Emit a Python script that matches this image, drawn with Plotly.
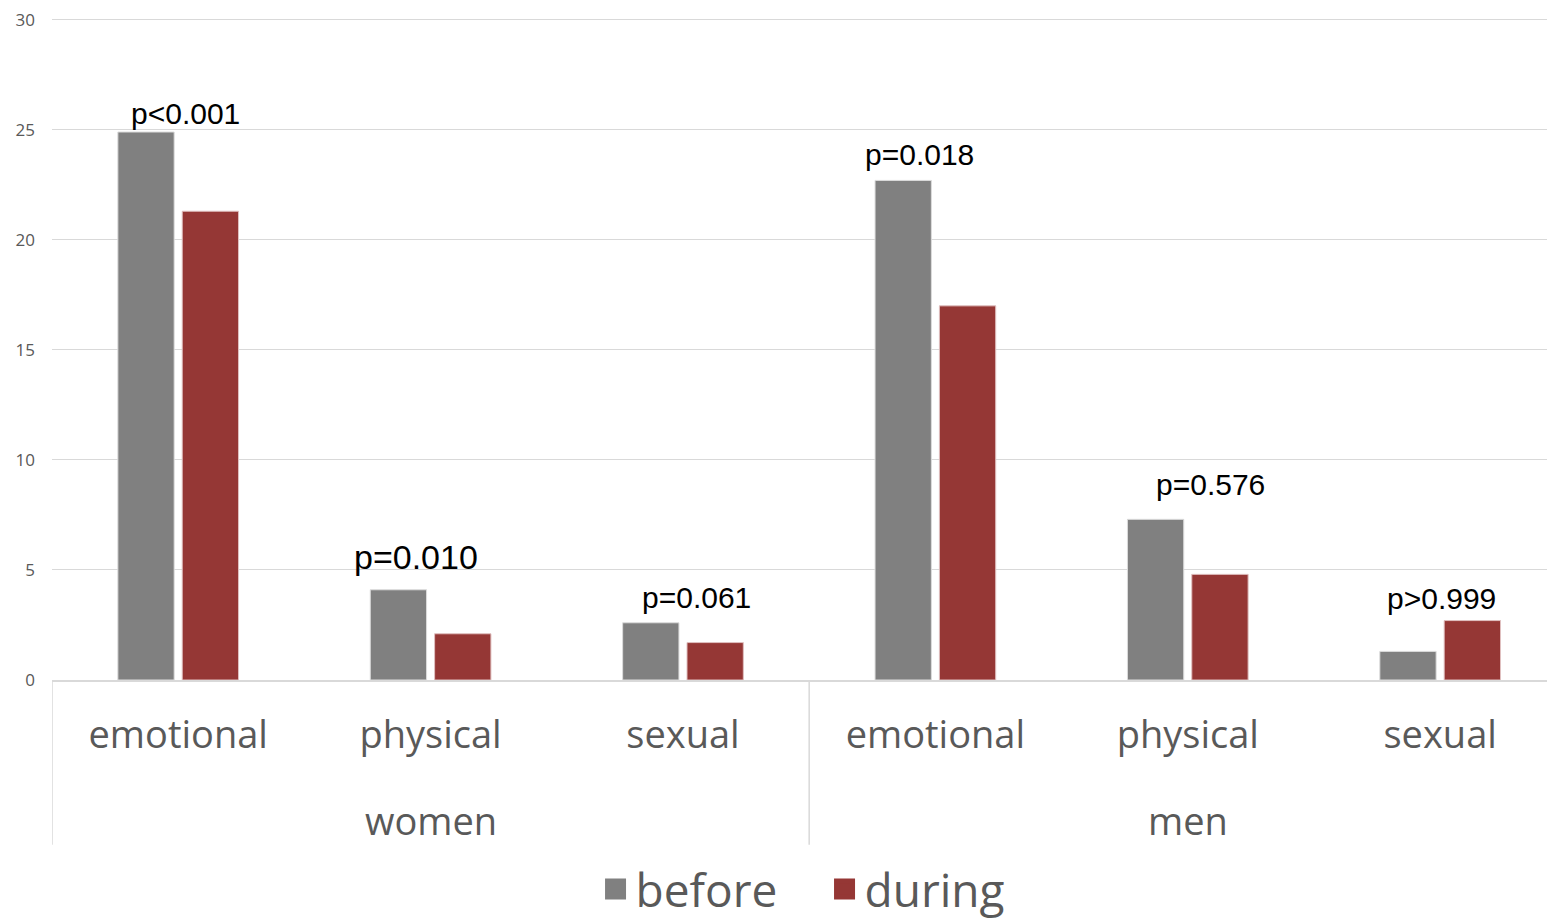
import plotly.graph_objects as go

categories = ["emotional", "physical", "sexual", "emotional", "physical", "sexual"]
groups = ["women", "men"]
group_members = [[0, 1, 2], [3, 4, 5]]
before = [24.9, 4.1, 2.6, 22.7, 7.3, 1.3]
during = [21.3, 2.1, 1.7, 17.0, 4.8, 2.7]
p_labels = ["p<0.001", "p=0.010", "p=0.061", "p=0.018", "p=0.576", "p>0.999"]
y_ticks = [0, 5, 10, 15, 20, 25, 30]

# styling / placement
p_dx = [7, -15, 14, -16, 23, 1]
p_dy = [0, 12, 7, 7, 16, 4]
p_size = [30, 34, 30, 30, 30, 30]
GRAY = "#808080"
RED = "#953735"
TXT = "#595959"
FONT = "Open Sans"

xs = list(range(len(categories)))

fig = go.Figure()
fig.add_trace(go.Bar(x=xs, y=before, name="before", marker=dict(color=GRAY, line=dict(color="#dcdcdc", width=1)), showlegend=False))
fig.add_trace(go.Bar(x=xs, y=during, name="during", marker=dict(color=RED, line=dict(color="#e0c0c0", width=1)), showlegend=False))
# legend entries
for nm, col in [("before", GRAY), ("during", RED)]:
    fig.add_trace(go.Scatter(x=[None], y=[None], mode="markers", name=nm,
                             marker=dict(symbol="square", size=16, color=col, line=dict(color=col, width=5))))

for i, lab in enumerate(p_labels):
    fig.add_annotation(x=xs[i], y=max(before[i], during[i]), text=lab, showarrow=False,
                       xanchor="center", yanchor="bottom", xshift=p_dx[i], yshift=p_dy[i],
                       font=dict(family="Liberation Sans, Arial", size=p_size[i], color="#000000"))

for g, mem in zip(groups, group_members):
    fig.add_annotation(x=sum(mem) / len(mem), y=-0.211, yref="paper", text=g, showarrow=False,
                       xanchor="center", yanchor="middle", font=dict(family=FONT, size=38, color=TXT))
    fig.add_shape(type="line", xref="x", yref="paper", x0=mem[0] - 0.5, x1=mem[0] - 0.5, y0=0, y1=-0.249,
                  line=dict(color="#d9d9d9", width=1.5))

# page body has an 8px margin, so the figure is sized/offset to compensate
fig.update_layout(
    width=1547, height=912,
    margin=dict(l=44, r=0, t=10, b=240, autoexpand=False),
    plot_bgcolor="white", paper_bgcolor="white",
    barmode="group", bargap=0.49, bargroupgap=0.125,
    font=dict(family=FONT, color=TXT),
    legend=dict(orientation="h", x=0.514, xanchor="center", y=-0.316, yanchor="middle",
                font=dict(family=FONT, size=46, color=TXT), itemwidth=30, entrywidth=184),
    xaxis=dict(range=[-0.5, 5.455], tickvals=xs, ticktext=categories, showgrid=False,
               showline=True, linecolor="#d9d9d9", linewidth=1.5, ticks="", automargin=False,
               tickfont=dict(family=FONT, size=38, color=TXT), ticklabelstandoff=21, zeroline=False),
    yaxis=dict(range=[0, 30.08], tickvals=y_ticks, showgrid=True, gridcolor="#d9d9d9", gridwidth=1,
               zeroline=False, showline=False, tickfont=dict(family=FONT, size=17, color=TXT),
               ticklabelstandoff=16, automargin=False, ticklabeloverflow="allow"),
)

fig.write_html("out.html")
